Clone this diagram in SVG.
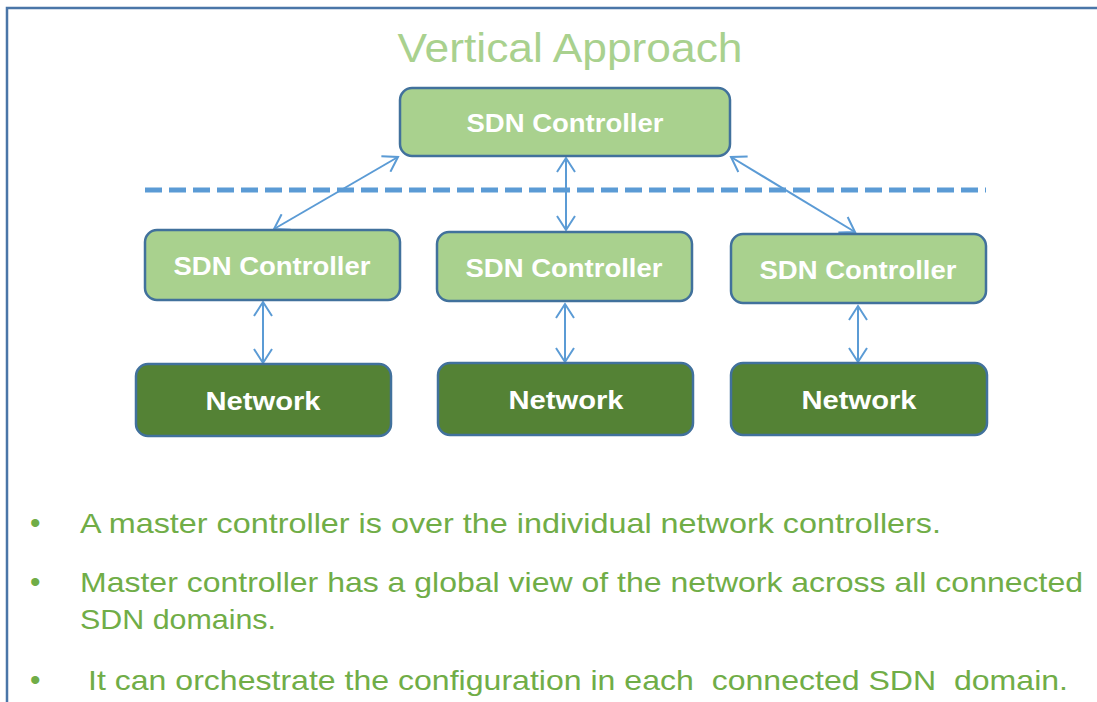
<svg xmlns="http://www.w3.org/2000/svg" width="1097" height="702" viewBox="0 0 1097 702">
<defs>
<style>
.frame{fill:none;stroke:#4a76a8;stroke-width:2.5}
.ctl{fill:#a9d18e;stroke:#41719c;stroke-width:2.5}
.net{fill:#548235;stroke:#41719c;stroke-width:2.5}
.lbl{font-family:"Liberation Sans",Arial,sans-serif;font-weight:bold;font-size:25px;fill:#ffffff;text-anchor:middle}
.title{font-family:"Liberation Sans",Arial,sans-serif;font-size:40px;fill:#a9d18e;text-anchor:middle}
.body{font-family:"Liberation Sans",Arial,sans-serif;font-size:28px;fill:#70ad47}
.bul{font-family:"Liberation Sans",Arial,sans-serif;font-size:30px;fill:#70ad47}
.conn{fill:none;stroke:#5b9bd5;stroke-width:2;marker-start:url(#ah);marker-end:url(#ah)}
</style>
<marker id="ah" viewBox="0 0 20 20" refX="17" refY="10" markerWidth="20" markerHeight="20" markerUnits="userSpaceOnUse" orient="auto-start-reverse">
<path d="M3,1 L17,10 L3,19" fill="none" stroke="#5b9bd5" stroke-width="2"/>
</marker>
</defs>
<rect width="1097" height="702" fill="#ffffff"/>
<path class="frame" d="M7,702 L7,8 L1097,8"/>
<text class="title" x="570" y="62" textLength="345" lengthAdjust="spacingAndGlyphs">Vertical Approach</text>
<line x1="145" y1="190" x2="986" y2="190" stroke="#5b9bd5" stroke-width="5" stroke-dasharray="17,7"/>
<g id="connectors">
<line class="conn" x1="398" y1="157" x2="274" y2="229"/>
<line class="conn" x1="566" y1="158" x2="566" y2="230"/>
<line class="conn" x1="731" y1="157" x2="855" y2="232"/>
<line class="conn" x1="263" y1="302" x2="263" y2="363"/>
<line class="conn" x1="565" y1="304" x2="565" y2="362"/>
<line class="conn" x1="858" y1="306" x2="858" y2="362"/>
</g>
<g id="master">
<rect class="ctl" x="400" y="88" width="330" height="68" rx="12"/>
<text class="lbl" x="565" y="132" textLength="197" lengthAdjust="spacingAndGlyphs">SDN Controller</text>
</g>
<g id="ctl1">
<rect class="ctl" x="145" y="230" width="255" height="70" rx="12"/>
<text class="lbl" x="272" y="275" textLength="197" lengthAdjust="spacingAndGlyphs">SDN Controller</text>
</g>
<g id="ctl2">
<rect class="ctl" x="437" y="232" width="255" height="69" rx="12"/>
<text class="lbl" x="564" y="277" textLength="197" lengthAdjust="spacingAndGlyphs">SDN Controller</text>
</g>
<g id="ctl3">
<rect class="ctl" x="731" y="234" width="255" height="69" rx="12"/>
<text class="lbl" x="858" y="279" textLength="197" lengthAdjust="spacingAndGlyphs">SDN Controller</text>
</g>
<g id="net1">
<rect class="net" x="136" y="364" width="255" height="72" rx="12"/>
<text class="lbl" x="263" y="410" textLength="115" lengthAdjust="spacingAndGlyphs">Network</text>
</g>
<g id="net2">
<rect class="net" x="438" y="363" width="255" height="72" rx="12"/>
<text class="lbl" x="566" y="409" textLength="115" lengthAdjust="spacingAndGlyphs">Network</text>
</g>
<g id="net3">
<rect class="net" x="731" y="363" width="256" height="72" rx="12"/>
<text class="lbl" x="859" y="409" textLength="115" lengthAdjust="spacingAndGlyphs">Network</text>
</g>
<g id="bullets">
<text class="bul" x="30" y="533">•</text>
<text class="body" x="80" y="533" textLength="861" lengthAdjust="spacingAndGlyphs">A master controller is over the individual network controllers.</text>
<text class="bul" x="30" y="592">•</text>
<text class="body" x="80" y="592" textLength="1003" lengthAdjust="spacingAndGlyphs">Master controller has a global view of the network across all connected</text>
<text class="body" x="80" y="629" textLength="196" lengthAdjust="spacingAndGlyphs">SDN domains.</text>
<text class="bul" x="30" y="690">•</text>
<text class="body" x="88" y="690" textLength="980" lengthAdjust="spacingAndGlyphs" xml:space="preserve">It can orchestrate the configuration in each  connected SDN  domain.</text>
</g>
</svg>
